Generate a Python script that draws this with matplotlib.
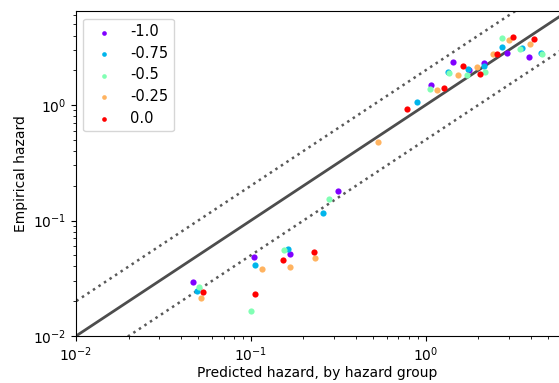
"""
Calibration plot: empirical vs predicted hazard by hazard group
"""

import numpy as np
import matplotlib
matplotlib.use("Agg")
import matplotlib.pyplot as plt

# series labels (legend) and their values
labels = ["-1.0", "-0.75", "-0.5", "-0.25", "0.0"]

pred_m100 = [0.0469, 0.104, 0.168, 0.317, 1.074, 1.43, 1.78, 2.15, 2.91, 3.89]
emp_m100 = [0.0295, 0.0486, 0.0516, 0.181, 1.48, 2.37, 2.00, 2.30, 2.80, 2.62]

pred_m075 = [0.0494, 0.106, 0.164, 0.260, 0.889, 1.34, 1.75, 2.16, 2.72, 3.55, 4.56]
emp_m075 = [0.0247, 0.0409, 0.0563, 0.116, 1.055, 1.92, 2.04, 2.16, 3.20, 3.10, 2.80]

pred_m050 = [0.0505, 0.0999, 0.155, 0.281, 1.06, 1.36, 1.73, 2.19, 2.75, 3.47, 4.63]
emp_m050 = [0.0267, 0.0166, 0.0555, 0.1526, 1.37, 1.88, 1.83, 1.92, 3.80, 3.03, 2.75]

pred_m025 = [0.0517, 0.1155, 0.1676, 0.233, 0.534, 1.16, 1.53, 1.97, 2.44, 3.01, 3.94]
emp_m025 = [0.0212, 0.0383, 0.0395, 0.0471, 0.479, 1.357, 1.83, 2.12, 2.76, 3.68, 3.37]

pred_000 = [0.0531, 0.106, 0.153, 0.230, 0.780, 1.27, 1.64, 2.05, 2.55, 3.15, 4.15]
emp_000 = [0.0242, 0.0230, 0.0455, 0.0533, 0.922, 1.40, 2.16, 1.85, 2.75, 3.88, 3.75]

predicted = [pred_m100, pred_m075, pred_m050, pred_m025, pred_000]
empirical = [emp_m100, emp_m075, emp_m050, emp_m025, emp_000]

x_lim = (0.01, 5.8)
y_lim = (0.01, 6.5)


def main():
    fig = plt.figure(figsize=(5.59, 3.83), dpi=100)
    ax = fig.add_axes([0.136, 0.1227, 0.864, 0.848])

    colors = plt.cm.rainbow(np.linspace(0, 1, len(labels)))
    for px, py, lab, c in zip(predicted, empirical, labels, colors):
        ax.scatter(px, py, s=20, color=c, linewidths=0, label=lab, zorder=3)

    # reference lines: y = x, y = 2x, y = x/2
    ref = np.array([1e-3, 1e2])
    ax.plot(ref, ref, color="0.3", lw=2, zorder=2)
    ax.plot(ref, 2 * ref, color="0.35", lw=1.8, ls=":", zorder=2)
    ax.plot(ref, ref / 2, color="0.35", lw=1.8, ls=":", zorder=2)

    ax.set_xscale("log")
    ax.set_yscale("log")
    ax.set_xlim(*x_lim)
    ax.set_ylim(*y_lim)
    ax.spines["right"].set_visible(False)

    ax.set_xlabel("Predicted hazard, by hazard group", fontsize=10, labelpad=1.5)
    ax.set_ylabel("Empirical hazard", fontsize=10)
    ax.tick_params(labelsize=10)

    ax.legend(loc="upper left", fontsize=10.5, markerscale=0.75,
              labelspacing=0.45)

    fig.savefig("out.png", dpi=100)


if __name__ == "__main__":
    main()
